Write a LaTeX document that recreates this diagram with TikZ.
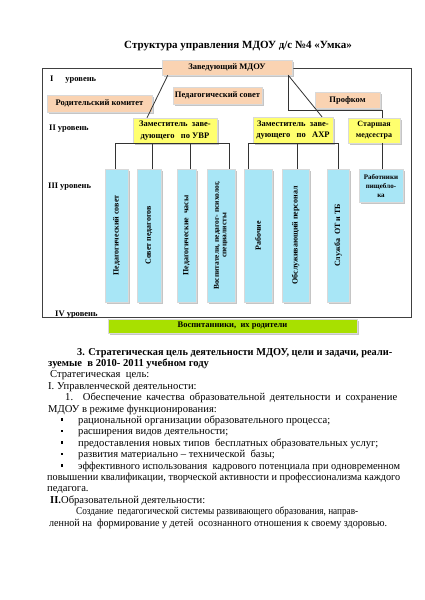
\documentclass[tikz,border=0pt]{standalone}
\usepackage{fontspec}
\setmainfont{Liberation Serif}
\usetikzlibrary{shadows}
\definecolor{peach}{HTML}{FAD3B2}
\definecolor{yel}{HTML}{FFFF6E}
\definecolor{cyanbox}{HTML}{A8E6F6}
\definecolor{grn}{HTML}{A8E000}
\newsavebox\jbox
\newcommand\jline[2]{\sbox\jbox{#2}\ifdim\wd\jbox>#1\relax\resizebox{#1}{\ht\jbox}{\usebox\jbox}\else\makebox[#1][s]{#2}\fi}
\begin{document}
\begin{tikzpicture}[x=1pt,y=-1pt,
  box/.style={draw=black!15, line width=0.4pt, inner sep=1pt, align=center,
    drop shadow={shadow xshift=1.6pt, shadow yshift=-1.6pt, fill=black!45},
    font=\bfseries\fontsize{8.5}{10}\selectfont},
  pbox/.style={box, fill=peach},
  ybox/.style={box, fill=yel, font=\bfseries\fontsize{8.5}{11.5}\selectfont},
  cbox/.style={box, fill=cyanbox, minimum height=133pt, font=\bfseries\fontsize{8}{9}\selectfont},
  gbox/.style={box, fill=grn},
  lvl/.style={anchor=base west, inner sep=0, font=\bfseries\fontsize{8.5}{10}\selectfont},
  conn/.style={draw=black!80, line width=0.8pt},
  body/.style={anchor=base west, inner sep=0, font=\fontsize{10.6}{11.4}\selectfont},
  bul/.style={fill=black}
]
\useasboundingbox (0,0) rectangle (424,600);
\fill[white] (0,0) rectangle (424,600);

% title
\node[inner sep=0, font=\bfseries\fontsize{11}{13}\selectfont] (title) at (238,46) {Структура управления МДОУ д/с №4 «Умка»};

% outer frame
\draw[draw=black!75, line width=0.8pt] (42,68.5) rectangle (411,317);

% level labels
\node[lvl] (l1) at (50,81) {I\hspace{1.4em}уровень};
\node[lvl] (l2) at (49,130) {II уровень};
\node[lvl] (l3) at (48,188) {III уровень};
\node[lvl] (l4) at (55,316) {IV уровень};

% level I
\node[pbox, minimum width=130pt, minimum height=15pt] (zav) at (227,67.5) {Заведующий МДОУ};
\node[pbox, minimum width=105pt, minimum height=17pt] (rod) at (99.5,103.5) {Родительский комитет};
\node[pbox, minimum width=89pt, minimum height=17pt] (ped) at (217.5,95.5) {Педагогический совет};
\node[pbox, minimum width=65pt, minimum height=16pt] (prof) at (347.5,100) {Профком};

% level II
\node[ybox, minimum width=84pt, minimum height=25pt] (uvr) at (175,130.5) {Заместитель\ \ заве-\\дующего\ \ \ по УВР};
\node[ybox, minimum width=80pt, minimum height=26pt] (ahr) at (293,130) {Заместитель\ \ заве-\\дующего\ \ \ по\ \ \ АХР};
\node[ybox, minimum width=52pt, minimum height=25pt, font=\bfseries\fontsize{8}{11}\selectfont] (med) at (374,130.5) {Старшая\\медсестра};

% level III
\node[cbox, minimum width=23pt] (b1) at (116.5,235.5) {\rotatebox{90}{Педагогический совет}};
\node[cbox, minimum width=24pt] (b2) at (149,235.5) {\rotatebox{90}{Совет педагогов}};
\node[cbox, minimum width=19pt] (b3) at (186.5,235.5) {\rotatebox{90}{Педагогические\ \ часы}};
\node[cbox, minimum width=28pt, font=\bfseries\fontsize{7.5}{8.5}\selectfont] (b4) at (221,235.5) {\rotatebox{90}{\begin{tabular}{@{}c@{}}Воспитатели, педагог- психолог,\\[-1pt] специалисты\end{tabular}}};
\node[cbox, minimum width=28pt] (b5) at (258,235.5) {\rotatebox{90}{Рабочие}};
\node[cbox, minimum width=27pt] (b6) at (295.5,235.5) {\rotatebox{90}{Обслуживающий персонал}};
\node[cbox, minimum width=22pt] (b7) at (338,235.5) {\rotatebox{90}{Служба\ \ ОТ и ТБ}};
\node[box, fill=cyanbox, minimum width=44pt, minimum height=33pt, anchor=north, font=\bfseries\fontsize{7}{9}\selectfont] (rab) at (381,169) {Работники\\пищеблo-\\ка};

% level IV
\node[gbox, minimum width=249pt, minimum height=14pt] (vos) at (232.5,326) {Воспитанники,\ \ их родители};

% connectors
\coordinate (k) at (382,110);
\draw[conn] ([xshift=6pt]zav.south west) -- ([xshift=-28pt]uvr.north);
\draw[conn] ([xshift=-4pt]zav.south east) -- ([xshift=29pt]ahr.north);
\draw[conn] ([xshift=-4pt]zav.south east) |- (k) -- (k |- med.north);
\draw[conn] ([xshift=-1.5pt]b1.north) |- (uvr.south) -| ([xshift=8pt]b4.north);
\draw[conn] ([xshift=3pt]b2.north) -- ([xshift=3pt]b2.north |- uvr.south);
\draw[conn] ([xshift=3.5pt]b3.north) -- ([xshift=3.5pt]b3.north |- uvr.south);
\draw[conn] ([xshift=-10pt]b5.north) |- (ahr.south) -| (b7.north);
\draw[conn] ([xshift=1.5pt]b6.north) -- ([xshift=1.5pt]b6.north |- ahr.south);
\draw[conn] ([xshift=1pt]rab.north) -- ([xshift=1pt]rab.north |- med.south);

% body text
\node[body, font=\bfseries\fontsize{10.6}{11.4}\selectfont] (t1) at (77,355) {\jline{315pt}{3. Стратегическая цель деятельности МДОУ, цели и задачи, реали-}};
\node[body, font=\bfseries\fontsize{10.6}{11.4}\selectfont] (t2) at (48,366.4) {зуемые\ \ в 2010- 2011 учебном году};
\node[body] (t3) at (50,377.8) {Стратегическая\ \ цель:};
\node[body] (t4) at (48,389.2) {I. Управленческой деятельности:};
\node[body] (t5) at (65,400.6) {\jline{332pt}{1. Обеспечение качества образовательной деятельности и сохранение}};
\node[body] (t6) at (48,412) {МДОУ в режиме функционирования:};
\node[body] (t7) at (78,423.4) {рациональной организации образовательного процесса;};
\node[body] (t8) at (78,434.8) {расширения видов деятельности;};
\node[body] (t9) at (78,446.2) {предоставления новых типов\ \ бесплатных образовательных услуг;};
\node[body] (t10) at (78,457.6) {развития материально – технической\ \ базы;};
\node[body] (t11) at (78,469) {\jline{322pt}{эффективного использования\ \ кадрового потенциала при одновременном}};
\node[body] (t12) at (47,480.4) {\jline{353pt}{повышении квалификации, творческой активности и профессионализма каждого}};
\node[body] (t13) at (47,491.8) {педагога.};
\node[body] (t14) at (50,503.2) {\textbf{II.}Образовательной деятельности:};
\node[body] (t15) at (76,514.6) {\jline{282pt}{Создание\ \ педагогической системы развивающего образования, направ-}};
\node[body] (t16) at (49,526) {\jline{338pt}{ленной на\ \ формирование у детей\ \ осознанного отношения к своему здоровью.}};

% bullets
\foreach \yy in {423.4,434.8,446.2,457.6,469} {
  \fill[bul] (60.5,\yy-5) rectangle (63,\yy-2.5);
}
\end{tikzpicture}
\end{document}
